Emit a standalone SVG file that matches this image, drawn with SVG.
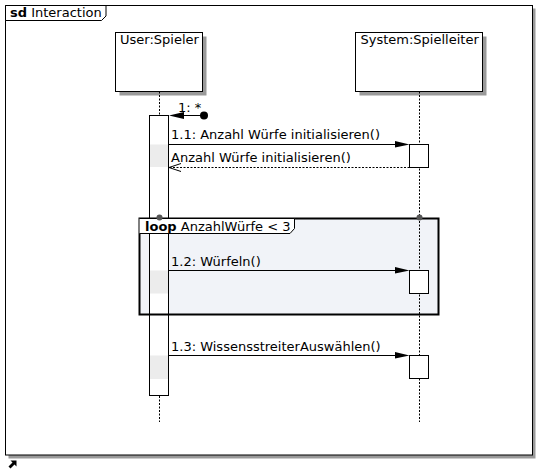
<svg xmlns="http://www.w3.org/2000/svg" width="538" height="469" viewBox="0 0 538 469">
<style>
text{font-family:"DejaVu Sans","Liberation Sans",sans-serif;font-size:13px;fill:#000}
.b{font-weight:bold}
.shadow{fill:#9a9a9a}
.box{fill:#fff;stroke:#000;stroke-width:1}
.life{stroke:#000;stroke-width:1;stroke-dasharray:2,1.5;fill:none}
.act{fill:#fff;stroke:#000;stroke-width:1}
.shade{fill:#ececec}
.msg{stroke:#000;stroke-width:1;fill:none}
.ret{stroke:#000;stroke-width:1;fill:none;stroke-dasharray:2,1.5}
</style>
<rect width="538" height="469" fill="#fff"/>
<g id="frame">
<rect class="shadow" x="8.5" y="8.5" width="527" height="450"/>
<rect class="box" x="5.5" y="5.5" width="527" height="449.5"/>
<path d="M5.5,5.5 H106 V16 L101.5,20.5 H5.5 Z" fill="#fff" stroke="#000"/>
<text x="10" y="17"><tspan class="b">sd</tspan> Interaction</text>
</g>
<g id="loop-fill">
<rect x="139.5" y="218.5" width="299" height="96" fill="#f1f3f8"/>
</g>
<g id="lifeline-user">
<rect class="shadow" x="119.5" y="36.5" width="87" height="59"/>
<rect class="box" x="115.5" y="32.5" width="87" height="59"/>
<text x="120" y="44">User:Spieler</text>
<line class="life" x1="159.5" y1="91.5" x2="159.5" y2="422"/>
<rect class="act" x="149.5" y="115.5" width="19" height="280"/>
<rect class="shade" x="150" y="144.5" width="18" height="22.5"/>
<rect class="shade" x="150" y="270.5" width="18" height="23"/>
<rect class="shade" x="150" y="355.5" width="18" height="23.5"/>
</g>
<g id="lifeline-system">
<rect class="shadow" x="359.5" y="36.5" width="127" height="59"/>
<rect class="box" x="355.5" y="32.5" width="127" height="59"/>
<text x="360.5" y="44">System:Spielleiter</text>
<line class="life" x1="419.5" y1="91.5" x2="419.5" y2="422"/>
<rect class="act" x="409.5" y="144.5" width="19" height="23"/>
<rect class="act" x="409.5" y="270.5" width="19" height="23"/>
<rect class="act" x="409.5" y="355.5" width="19" height="23"/>
</g>
<g id="loop">
<rect x="139.5" y="218.5" width="299" height="96" fill="none" stroke="#000" stroke-width="2"/>
<path d="M139.5,218.5 H294.5 V228.5 L290,233.5 H139.5" fill="#fff" stroke="#000" stroke-width="1"/>
<text x="145" y="230.5"><tspan class="b">loop</tspan> AnzahlWürfe &lt; 3</text>
<circle cx="159.5" cy="217.5" r="3" fill="#555"/>
<circle cx="419.5" cy="217.5" r="3" fill="#555"/>
</g>
<g id="connectors">
<circle cx="204" cy="115.5" r="4" fill="#000"/>
<line class="msg" x1="204" y1="115.5" x2="172" y2="115.5"/>
<polygon points="169,115.5 184,112 184,119" fill="#000"/>
<text x="178" y="112">1: *</text>
<line class="msg" x1="169" y1="144.5" x2="400" y2="144.5"/>
<polygon points="409.5,144.5 395,141 395,147.5" fill="#000"/>
<text x="171" y="139">1.1: Anzahl Würfe initialisieren()</text>
<line class="ret" x1="409.5" y1="167.5" x2="169" y2="167.5"/>
<polyline class="msg" points="181,163.5 169,167.5 181,171.5"/>
<text x="171" y="162">Anzahl Würfe initialisieren()</text>
<line class="msg" x1="169" y1="270.5" x2="400" y2="270.5"/>
<polygon points="409.5,270.5 395,267 395,273.5" fill="#000"/>
<text x="171" y="266">1.2: Würfeln()</text>
<line class="msg" x1="169" y1="355.5" x2="400" y2="355.5"/>
<polygon points="409.5,355.5 395,352 395,358.5" fill="#000"/>
<text x="171" y="351">1.3: WissensstreiterAuswählen()</text>
</g>
<g id="nav-icon">
<path d="M8.5,466.5 L12.5,462.5 L10.5,460.5 H16.5 V466.5 L14.5,464.5 L10.5,468.5 Z" fill="#000"/>
</g>
</svg>
